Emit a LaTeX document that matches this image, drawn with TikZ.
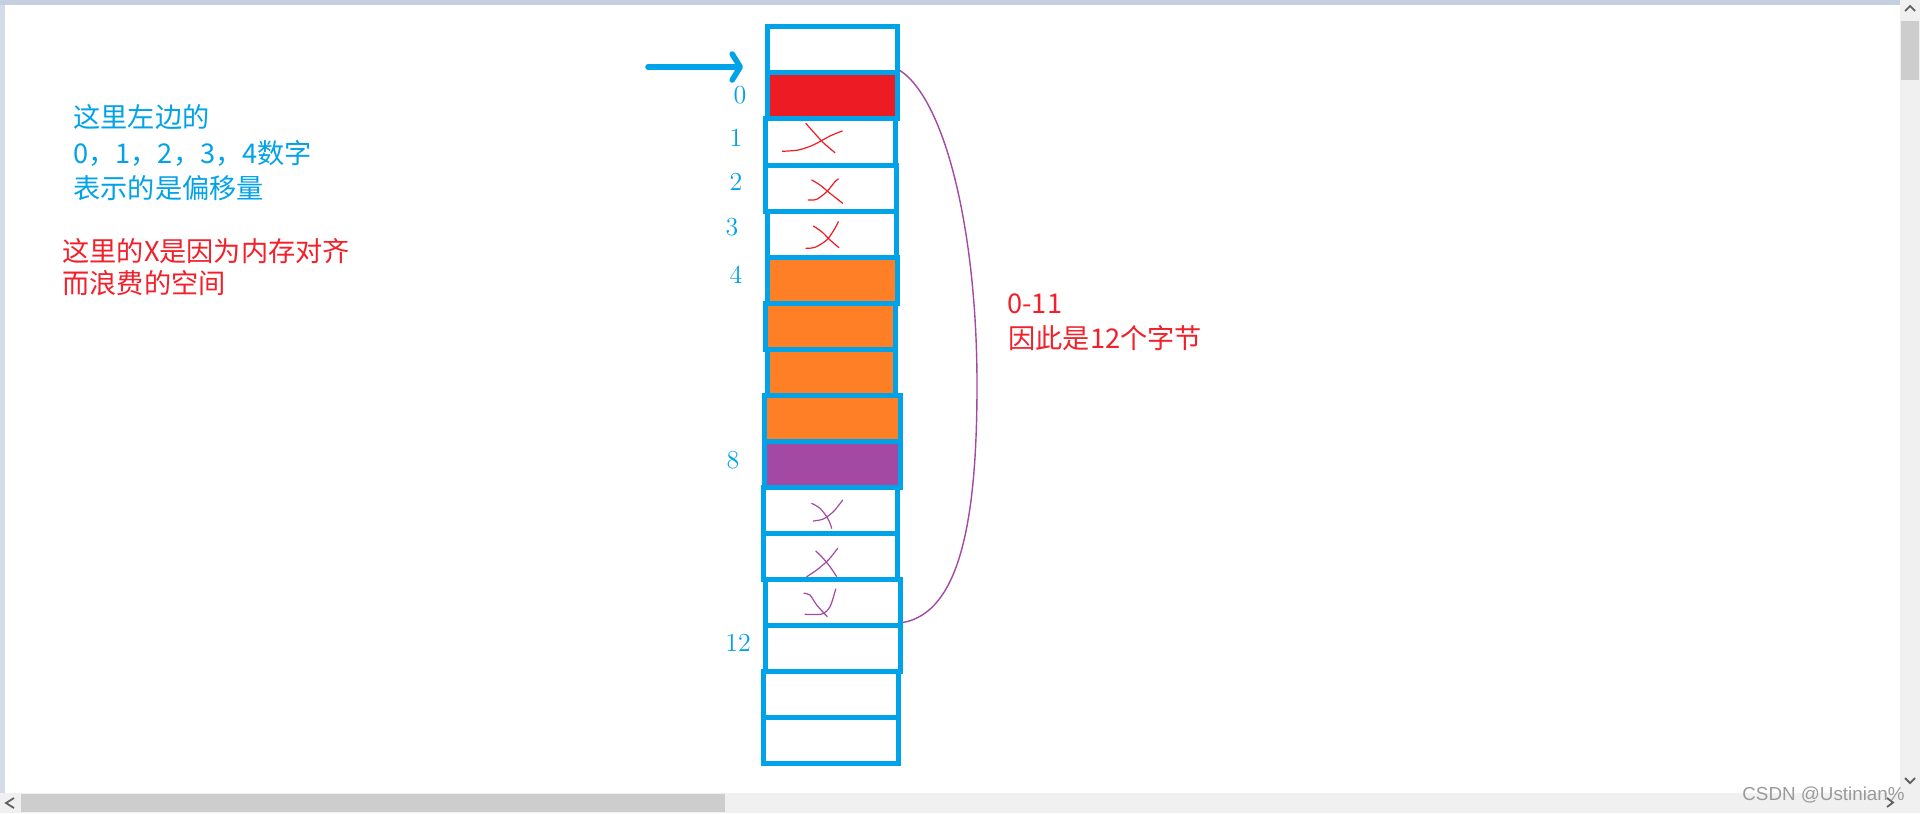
\documentclass[tikz,border=0pt]{standalone}
\usepackage{fontspec}
\newfontfamily\cjk{Noto Sans CJK SC}
\newfontfamily\uifont{Liberation Sans}
\usetikzlibrary{arrows.meta}

\definecolor{memblue}{HTML}{00A2E8}
\definecolor{memred}{HTML}{ED1C24}
\definecolor{memorange}{HTML}{FF7F27}
\definecolor{mempurple}{HTML}{A349A4}
\definecolor{notered}{HTML}{F2202A}
\definecolor{barbg}{HTML}{F0F0F0}
\definecolor{barthumb}{HTML}{CDCDCD}
\definecolor{framebg}{HTML}{C5CFE2}
\definecolor{chev}{HTML}{606060}
\definecolor{wmgray}{HTML}{9A9A9A}

\tikzset{
  cell/.style={draw=memblue, line width=2.5pt, inner sep=0pt, minimum height=23pt},
  offlabel/.style={text=memblue, inner sep=0pt, font=\fontsize{13}{15}\selectfont},
  note/.style={anchor=base west, inner sep=0pt, font=\cjk\fontsize{13.6}{16}\selectfont},
  xmark/.style={draw=#1, line width=0.6pt, line cap=round},
  brace/.style={draw=mempurple, line width=0.7pt},
  pointer/.style={draw=memblue, line width=2.8pt, line cap=round,
    -{Straight Barb[length=4pt, width=13pt, round]}},
  chevron/.style={draw=chev, line width=0.9pt},
}

\begin{document}
\begin{tikzpicture}[x=0.5pt, y=-0.5pt]
  \useasboundingbox (0,0) rectangle (1920,813);
  % Window frame and scroll bars
  \fill[white] (0,0) rectangle (1920,813);
  \fill[framebg] (0,0) rectangle (1900,5);
  \fill[framebg!75] (0,5) rectangle (5,793);
  \fill[barbg] (0,793) rectangle (1920,813);
  \fill[barbg] (1900,0) rectangle (1920,793);
  \fill[barthumb] (21,794) rectangle (725,812);
  \fill[barthumb] (1901,21) rectangle (1919,80);
  \draw[chevron] (14,798) -- (6,803) -- (14,808);
  \draw[chevron] (1887,798) -- (1893,802.5) -- (1887,807);
  \draw[chevron] (1905,11) -- (1910,6) -- (1915,11);
  \draw[chevron] (1905,778) -- (1910,783) -- (1915,778);

  % Memory cells, one per byte
  \foreach \nm/\l/\r/\fc [evaluate=\l as \w using {(\r-\l-5)/2}, count=\k from 0] in {
      head/765/900/white, b0/765/900/memred, b1/763/898/white, b2/763/899/white,
      b3/765/899/white, b4/765/900/memorange, b5/763/898/memorange,
      b6/765/898/memorange, b7/762/903/memorange, b8/762/903/mempurple,
      b9/761/900/white, b10/761/900/white, b11/763/903/white,
      b12/763/903/white, b13/761/901/white, b14/761/901/white} {
    \node[cell, fill=\fc, minimum width=\w pt] (\nm) at ({(\l+\r)/2}, {50+46*\k}) {};
  }

  % Crossed-out padding bytes
  \draw[xmark=memred] plot[smooth] coordinates {(805.7,123.3) (811.7,130) (823.3,142.7) (835,152.7)};
  \draw[xmark=memred] plot[smooth] coordinates {(782.3,151.3) (798.3,150) (813.3,145) (830,136) (842.3,131)};
  \draw[xmark=memred] plot[smooth] coordinates {(811.7,180) (820,185) (830,193.3) (842.7,203.3)};
  \draw[xmark=memred] plot[smooth] coordinates {(808.3,200) (816.7,199.3) (826.7,191.7) (835,181.7) (838.3,179)};
  \draw[xmark=memred] plot[smooth] coordinates {(813.3,226) (821.7,231.7) (830,240) (839,247.7)};
  \draw[xmark=memred] plot[smooth] coordinates {(806,248.3) (815,247.3) (826.7,240) (835,228.3) (838.3,221.7)};
  \draw[xmark=mempurple] plot[smooth] coordinates {(811.7,503.3) (820,508.3) (826.7,516.7) (830,523.3) (831.7,528.3)};
  \draw[xmark=mempurple] plot[smooth] coordinates {(813.3,521) (823.3,519) (833.3,511.7) (842.7,500)};
  \draw[xmark=mempurple] plot[smooth] coordinates {(815.7,551) (821.7,556.7) (830,566.7) (836.7,576.7)};
  \draw[xmark=mempurple] plot[smooth] coordinates {(806.7,576.7) (816.7,570) (828.3,560) (837.7,548.3)};
  \draw[xmark=mempurple] plot[smooth] coordinates {(804,593.3) (810,595) (816.7,605) (827.3,616.7)};
  \draw[xmark=mempurple] plot[smooth] coordinates {(805,614.3) (821.7,614) (830,606.7) (835.7,589)};

  % Offsets
  \foreach \nm/\x/\y/\txt in {l0/740/95/0, l1/736/138/1, l2/736/182/2, l3/732/227/3,
      l4/736/275/4, l8/733/460/8, l12/738/643/12} {
    \node[offlabel] (\nm) at (\x,\y) {\txt};
  }

  % Start pointer
  \coordinate (ptr tail) at (648,67);
  \coordinate (ptr tip) at (743,67);
  \draw[pointer] (ptr tail) -- (ptr tip);

  % Span of the struct
  \coordinate (bulge) at (977,385);
  \draw[brace] (b0.north east) .. controls (945,100) and (977,230) .. (bulge)
    .. controls (977,520) and (960,612) .. (b12.north east);

  % Notes
  \foreach \y/\txt [count=\i] in {127/{这里左边的}, 163/{0，1，2，3，4数字}, 198/{表示的是偏移量}} {
    \node[note, text=memblue] (blue\i) at (73,\y) {\txt};
  }
  \foreach \y/\txt [count=\i] in {261/{这里的X是因为内存对齐}, 293/{而浪费的空间}} {
    \node[note, text=notered] (red\i) at (62,\y) {\txt};
  }
  \node[note, text=notered] (span1) at (1007,313) {0-11};
  \node[note, text=notered] (span2) at (1008,348) {因此是12个字节};

  % Watermark
  \node[anchor=east, inner sep=0pt, text=wmgray, font=\uifont\fontsize{9.4}{11}\selectfont]
    (mark) at (1905,795) {CSDN @Ustinian\%};
\end{tikzpicture}
\end{document}
